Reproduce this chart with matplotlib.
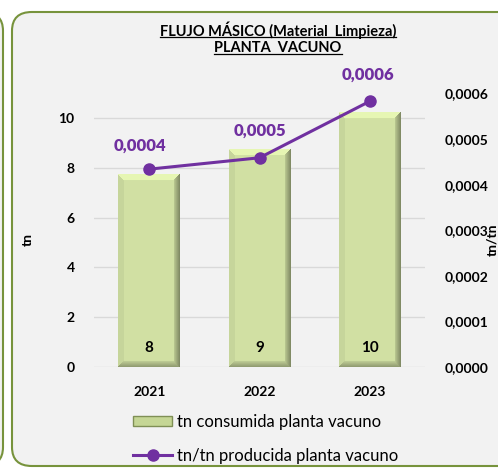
import numpy as np
import matplotlib
matplotlib.use("Agg")
import matplotlib.pyplot as plt
from matplotlib.patches import FancyBboxPatch
from matplotlib.lines import Line2D
from matplotlib.patches import Patch

years = ["2021", "2022", "2023"]
tn_consumida = [7.72, 8.72, 10.2]
tn_por_tn = [0.000434, 0.000459, 0.000583]
bar_labels = ["8", "9", "10"]
line_labels = ["0,0004", "0,0005", "0,0006"]
right_ticks = [0, 0.0001, 0.0002, 0.0003, 0.0004, 0.0005, 0.0006]
right_ticklabels = ["0,0000", "0,0001", "0,0002", "0,0003", "0,0004", "0,0005", "0,0006"]

plt.rcParams['font.family'] = ['Lato', 'DejaVu Sans']

purple = "#7030a0"
olive = "#77933c"
W, H = 498, 471

fig = plt.figure(figsize=(W / 100, H / 100), dpi=100)
fig.patch.set_facecolor("white")

# chart frame (and the edge of the neighbouring chart)
fig.patches.append(FancyBboxPatch((12 / W, 5 / H), 520 / W, 454 / H,
                                  boxstyle="round,pad=0,rounding_size=0.04",
                                  transform=fig.transFigure, facecolor="#f2f2f2",
                                  edgecolor=olive, linewidth=1.5, zorder=-5))
fig.patches.append(FancyBboxPatch((-40 / W, 5 / H), 43 / W, 454 / H,
                                  boxstyle="round,pad=0,rounding_size=0.04",
                                  transform=fig.transFigure, facecolor="#f2f2f2",
                                  edgecolor=olive, linewidth=1.5, zorder=-5))

ax = fig.add_axes([94 / W, 1 - 367 / H, 331 / W, 274 / H])
ax.set_facecolor("none")
x = np.arange(len(years))
ax.set_xlim(-0.5, 2.5)
ax.set_ylim(0, 11)
ax.set_yticks([0, 2, 4, 6, 8, 10])
ax.grid(axis="y", color="#d9d9d9", linewidth=1)
ax.set_axisbelow(True)
for s in ax.spines.values():
    s.set_visible(False)
ax.tick_params(length=0)
ax.tick_params(axis="y", pad=14, labelsize=10)
ax.tick_params(axis="x", pad=14, labelsize=10)
ax.set_xticks(x)
ax.set_xticklabels(years, fontweight="bold")
for t in ax.get_yticklabels():
    t.set_fontweight("bold")

bw = 0.56
bars = ax.bar(x, tn_consumida, width=bw, color="#d2e1a4", edgecolor="none",
              zorder=2, label="tn consumida planta vacuno")

# bevel look for each bar
face = np.array([0.82, 0.88, 0.64])
for b in bars:
    x0, w, h = b.get_x(), b.get_width(), b.get_height()
    nx = 62
    ny = max(int(h * 24.9), 10)
    t = 6
    img = np.tile(face, (ny, nx, 1))
    for j in range(ny):
        for i in range(nx):
            top = j
            bot = ny - 1 - j
            lef = i
            rig = nx - 1 - i
            d = min(top, bot, lef, rig)
            if d < t:
                if d == rig:
                    c = face * (0.62 + 0.05 * d)
                elif d == bot:
                    c = face * (0.7 + 0.04 * d)
                elif d == top:
                    c = np.minimum(face * 1.1, 1)
                else:
                    c = face * 0.95
                img[j, i] = c
    ax.imshow(img, extent=(x0, x0 + w, 0, h), aspect="auto", zorder=2.1,
              interpolation="bilinear")
ax.set_xlim(-0.5, 2.5)
ax.set_ylim(0, 11)

for xi, lab in zip(x, bar_labels):
    ax.text(xi, 0.78, lab, ha="center", va="center", fontsize=11,
            fontweight="bold", color="black", zorder=5)

ax2 = ax.twinx()
ax2.set_ylim(0, 0.0006 * 11 / 10.98)
ax2.set_yticks(right_ticks)
ax2.set_yticklabels(right_ticklabels, fontweight="bold")
ax2.tick_params(length=0, pad=14, labelsize=10)
for s in ax2.spines.values():
    s.set_visible(False)
ax2.plot(x, tn_por_tn, color=purple, linewidth=2.2, marker="o", markersize=8,
         zorder=6, label="tn/tn producida planta vacuno")
offsets = [(-0.08, 0.0000515), (0, 0.0000595), (-0.02, 0.0000575)]
for xi, v, lab, (dx, dy) in zip(x, tn_por_tn, line_labels, offsets):
    ax2.text(xi + dx, v + dy, lab, ha="center", va="center", fontsize=12,
             fontweight="heavy", color=purple)

fig.text(28 / W, 1 - 240 / H, "tn", rotation=90, ha="center", va="center",
         fontsize=10, fontweight="bold")
fig.text(492 / W, 1 - 240 / H, "tn/tn", rotation=90, ha="center", va="center",
         fontsize=10, fontweight="bold")

t1 = fig.text(278 / W, 1 - 30 / H, "FLUJO MÁSICO (Material  Limpieza)",
              ha="center", va="center", fontsize=10.5, fontweight="bold")
t2 = fig.text(278 / W, 1 - 48 / H, "PLANTA  VACUNO",
              ha="center", va="center", fontsize=10.5, fontweight="bold")
fig.canvas.draw()
inv = fig.transFigure.inverted()
for tt in (t1, t2):
    bb = tt.get_window_extent()
    (a0, b0), (a1, b1) = inv.transform([(bb.x0, bb.y0 + 1.5), (bb.x1, bb.y0 + 1.5)])
    fig.add_artist(Line2D([a0, a1], [b0, b1], transform=fig.transFigure,
                          color="black", linewidth=0.9))

handles = [Patch(facecolor="#c5d695", edgecolor="#7f8f55", linewidth=1),
           Line2D([], [], color=purple, linewidth=2.2, marker="o", markersize=8)]
fig.legend(handles, ["tn consumida planta vacuno", "tn/tn producida planta vacuno"],
           loc="upper left", bbox_to_anchor=(133 / W, 1 - 414 / H), frameon=False,
           fontsize=12, handlelength=2.35, handleheight=0.5, labelspacing=1.05,
           handletextpad=0.3, borderpad=0, borderaxespad=0)

fig.savefig("out.png", dpi=100, facecolor="white")
